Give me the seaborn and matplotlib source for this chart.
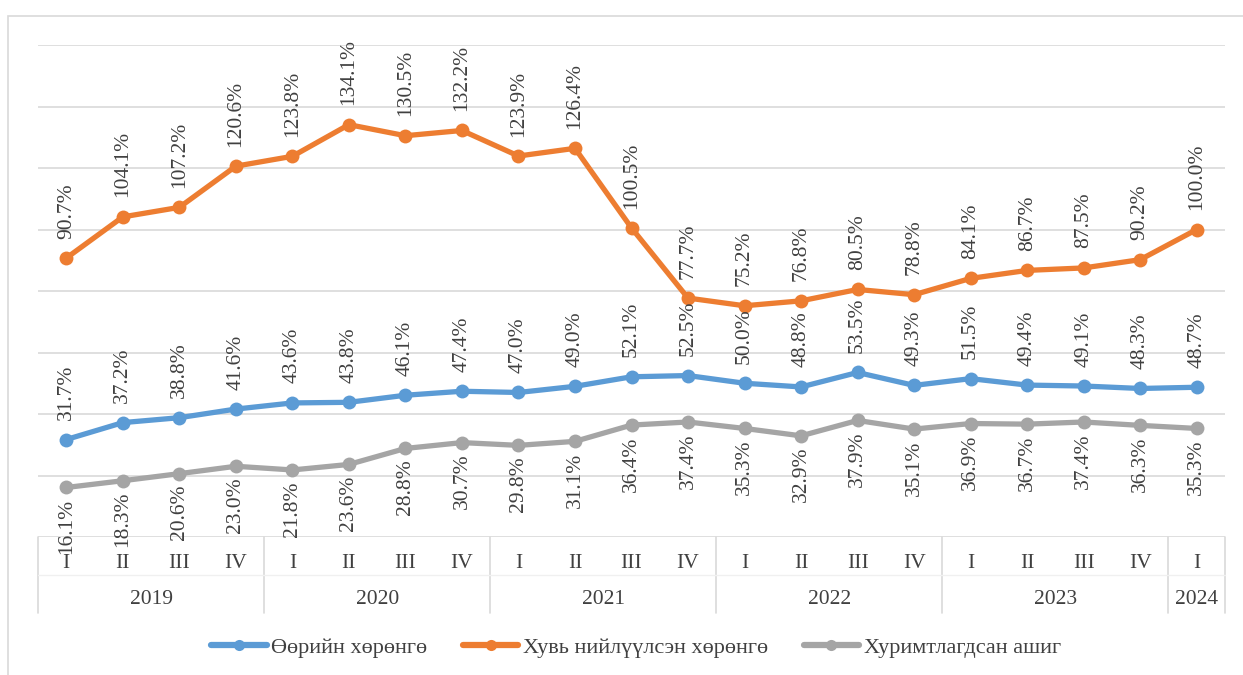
import matplotlib
matplotlib.use("Agg")
import matplotlib.pyplot as plt
from matplotlib.lines import Line2D
import matplotlib.transforms as mtransforms
import seaborn as sns
import pandas as pd

# data
years = ["2019", "2020", "2021", "2022", "2023", "2024"]
quarters = ["I", "II", "III", "IV"] * 5 + ["I"]
series_names = ["Өөрийн хөрөнгө", "Хувь нийлүүлсэн хөрөнгө", "Хуримтлагдсан ашиг"]
equity = [31.7, 37.2, 38.8, 41.6, 43.6, 43.8, 46.1, 47.4, 47.0, 49.0, 52.1,
          52.5, 50.0, 48.8, 53.5, 49.3, 51.5, 49.4, 49.1, 48.3, 48.7]
paid_in = [90.7, 104.1, 107.2, 120.6, 123.8, 134.1, 130.5, 132.2, 123.9, 126.4, 100.5,
           77.7, 75.2, 76.8, 80.5, 78.8, 84.1, 86.7, 87.5, 90.2, 100.0]
retained = [16.1, 18.3, 20.6, 23.0, 21.8, 23.6, 28.8, 30.7, 29.8, 31.1, 36.4,
            37.4, 35.3, 32.9, 37.9, 35.1, 36.9, 36.7, 37.4, 36.3, 35.3]

colors = ["#5b9bd5", "#ed7d31", "#a5a5a5"]
txt = "#404040"

sns.set_style("white")
plt.rcParams["font.family"] = ["Liberation Serif", "DejaVu Serif"]

n = len(quarters)
rows = []
for name, vals in zip(series_names, [equity, paid_in, retained]):
    for i, v in enumerate(vals):
        rows.append({"idx": i, "value": v, "series": name})
df = pd.DataFrame(rows)

W, H = 1243, 675
fig = plt.figure(figsize=(W / 100, H / 100), dpi=100)
ax_l, ax_r, ax_t, ax_b = 38, 1225, 45, 537
ax = fig.add_axes([ax_l / W, 1 - ax_b / H, (ax_r - ax_l) / W, (ax_b - ax_t) / H])

# outer chart border (runs off the right and bottom edges)
fig.patches.append(plt.Rectangle((8 / W, -0.01), 1.0, 1.01 - 16 / H,
                                 transform=fig.transFigure, fill=False,
                                 edgecolor="#d9d9d9", linewidth=1.2))

for yv in range(20, 161, 20):
    ax.axhline(yv, color="#d9d9d9", linewidth=1.2, zorder=0)
ax.axhline(0, color="#d9d9d9", linewidth=1.2, zorder=0)

sns.lineplot(data=df, x="idx", y="value", hue="series", hue_order=series_names,
             palette=colors, marker="o", markersize=10, linewidth=3.8,
             markeredgewidth=0, legend=False, ax=ax, zorder=3)

ax.set_xlim(-0.5, n - 0.5)
ax.set_ylim(0, 160)
ax.set_xticks([])
ax.set_yticks([])
ax.set_xlabel("")
ax.set_ylabel("")
for s in ax.spines.values():
    s.set_visible(False)

# data labels
for vals, dy, va in [(equity, 14, "bottom"), (paid_in, 14, "bottom"), (retained, -8, "top")]:
    for i, v in enumerate(vals):
        ax.annotate(f"{v:.1f}%", (i, v), xytext=(0, dy), textcoords="offset points",
                    rotation=90, ha="center", va=va, fontsize=15.5, color=txt)

# two-level category axis
trans = mtransforms.blended_transform_factory(ax.transData, ax.transAxes)
hpx = ax_b - ax_t
y_bot = -(613 - ax_b) / hpx
for i, q in enumerate(quarters):
    ax.text(i, -(563 - ax_b) / hpx, q, transform=trans, ha="center", va="center",
            fontsize=15.5, color=txt)
bounds = [-0.5, 3.5, 7.5, 11.5, 15.5, 19.5, 20.5]
for b in bounds:
    ax.plot([b, b], [0, y_bot], transform=trans, color="#d9d9d9", linewidth=1.2,
            clip_on=False)
ax.plot([-0.5, n - 0.5], [-(575 - ax_b) / hpx] * 2, transform=trans,
        color="#f0f0f0", linewidth=1.0, clip_on=False)
for k, yr in enumerate(years):
    mid = (bounds[k] + bounds[k + 1]) / 2
    ax.text(mid, -(600 - ax_b) / hpx, yr, transform=trans, ha="center", va="center",
            fontsize=15.5, color=txt)

handles = [Line2D([], [], color=c, linewidth=4.5, marker="o", markersize=8,
                  markeredgewidth=0) for c in colors]
fig.legend(handles, series_names, loc="center", bbox_to_anchor=(636 / W, 1 - 648 / H),
           ncol=3, frameon=False, fontsize=16, handlelength=2.5, handletextpad=0.2,
           columnspacing=1.6, labelcolor=txt)

fig.savefig("out.png", dpi=100)
